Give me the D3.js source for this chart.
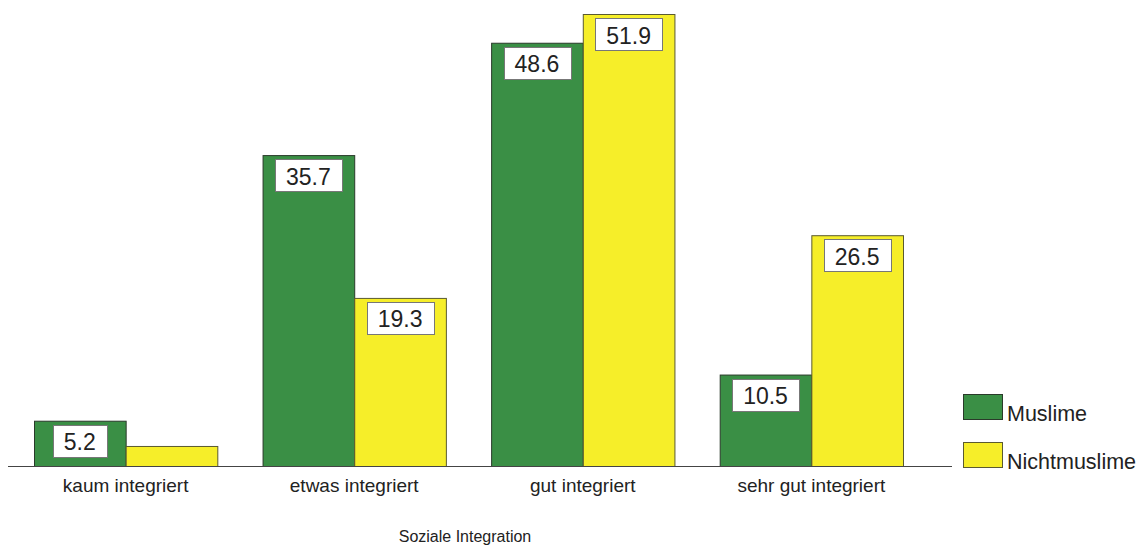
<!DOCTYPE html>
<html><head><meta charset="utf-8">
<script src="https://cdn.jsdelivr.net/npm/d3@7/dist/d3.min.js"></script>
<style>body{margin:0;background:#fff}svg{display:block;font-family:"Liberation Sans",Arial,sans-serif}</style>
</head><body>
<svg id="c" width="1140" height="545"></svg>
<script>
const categories = ["kaum integriert", "etwas integriert", "gut integriert", "sehr gut integriert"];
const seriesNames = ["Muslime", "Nichtmuslime"];
const muslime = [5.2, 35.7, 48.6, 10.5];
const nichtmuslime = [2.3, 19.3, 51.9, 26.5];
const showLabel = [[true, true, true, true], [false, true, true, true]];
const colors = ["#3a8f45", "#f6ee29"];
const strokes = ["#2a3a2a", "#5a5a30"];
const axisTitle = "Soziale Integration";

const svg = d3.select("#c");
const baseY = 466;
const x0 = d3.scaleBand().domain(categories).range([34, 903]).paddingInner(0.198).paddingOuter(0);
const x1 = d3.scaleBand().domain(seriesNames).range([0, x0.bandwidth()]).padding(0);
const y = d3.scaleLinear().domain([0, 51.9]).range([baseY, 14]);

const data = [muslime, nichtmuslime];
const rows = [];
categories.forEach((c, i) => seriesNames.forEach((s, j) => rows.push({c, s, j, i, v: data[j][i], lab: showLabel[j][i]})));

svg.selectAll("rect.bar").data(rows).join("rect").attr("class", "bar")
  .attr("x", d => x0(d.c) + x1(d.s) + 0.5)
  .attr("y", d => y(d.v) + 0.5)
  .attr("width", x1.bandwidth())
  .attr("height", d => y(0) - y(d.v))
  .attr("fill", d => colors[d.j])
  .attr("stroke", d => strokes[d.j]).attr("stroke-width", 1);

// axis line
svg.append("line").attr("x1", 8).attr("x2", 952).attr("y1", baseY + 0.5).attr("y2", baseY + 0.5)
  .attr("stroke", "#444").attr("stroke-width", 1.2);

// value labels
const lg = svg.selectAll("g.lab").data(rows.filter(d => d.lab)).join("g").attr("class", "lab");
lg.each(function(d) {
  const g = d3.select(this);
  const cx = x0(d.c) + x1(d.s) + x1.bandwidth() / 2;
  const top = y(d.v) + 4;
  const t = g.append("text").attr("x", cx).attr("y", top + 25.5).attr("text-anchor", "middle")
    .attr("font-size", 23).attr("fill", "#222").text(d.v.toFixed(1));
  const w = t.node().getComputedTextLength() + 22;
  g.insert("rect", "text").attr("x", Math.round(cx - w / 2) + 0.5).attr("y", Math.round(top) + 0.5)
    .attr("width", Math.round(w)).attr("height", 32).attr("fill", "#fff").attr("stroke", "#777").attr("stroke-width", 1);
});

// category labels
svg.selectAll("text.cat").data(categories).join("text").attr("class", "cat")
  .attr("x", d => x0(d) + x0.bandwidth() / 2).attr("y", 492)
  .attr("text-anchor", "middle").attr("font-size", 19).attr("fill", "#222").text(d => d);

// axis title
svg.append("text").attr("x", 465).attr("y", 542).attr("text-anchor", "middle")
  .attr("font-size", 16).attr("fill", "#222").text(axisTitle);

// legend
const leg = svg.selectAll("g.leg").data(seriesNames).join("g").attr("class", "leg")
  .attr("transform", (d, i) => `translate(963,${394 + i * 48})`);
leg.append("rect").attr("x", 0.5).attr("y", 0.5).attr("width", 39).attr("height", 25)
  .attr("fill", (d, i) => colors[i]).attr("stroke", (d, i) => strokes[i]);
leg.append("text").attr("x", 44).attr("y", 26.5).attr("font-size", 21.5).attr("fill", "#222").text(d => d);
</script>
</body></html>
